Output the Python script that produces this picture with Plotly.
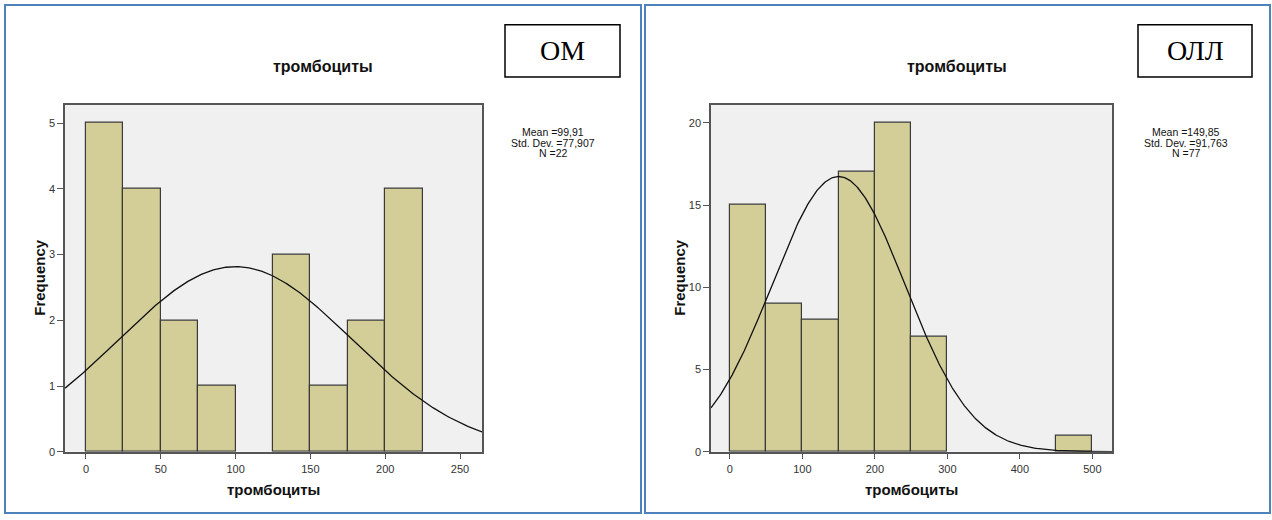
import numpy as np
import plotly.graph_objects as go

# ---------------- data ----------------
om_bin_edges = [0, 25, 50, 75, 100, 125, 150, 175, 200, 225]
om_counts = [5, 4, 2, 1, 0, 3, 1, 2, 4]
om_mean, om_std, om_n = 99.91, 77.907, 22

oll_bin_edges = [0, 50, 100, 150, 200, 250, 300, 350, 400, 450, 500]
oll_counts = [15, 9, 8, 17, 20, 7, 0, 0, 0, 1]
oll_mean, oll_std, oll_n = 149.85, 91.763, 77

om_xticks = [0, 50, 100, 150, 200, 250]
om_yticks = [0, 1, 2, 3, 4, 5]
oll_xticks = [0, 100, 200, 300, 400, 500]
oll_yticks = [0, 5, 10, 15, 20]

title_text = "тромбоциты"
xlabel_text = "тромбоциты"
ylabel_text = "Frequency"
group_labels = ["ОМ", "ОЛЛ"]

# ---------------- layout constants ----------------
W, H = 1272, 520
BAR_FILL = "#D3CE98"
BAR_LINE = "#3A3A3A"
PLOT_BG = "#F0F0F0"
AXIS_COL = "#555555"
FONT = "Liberation Sans, Arial, sans-serif"

def px(x):
    return x / W

def py(y):
    return 1 - y / H

fig = go.Figure()

panels = [
    dict(edges=om_bin_edges, counts=om_counts, mean=om_mean, std=om_std, n=om_n,
         xr=[-14, 264.7], yr=[0, 5.28], xt=om_xticks, yt=om_yticks,
         xd=[px(65), px(482)], stats_x=553, title_x=323, box=(505, 25, 620, 78),
         label=group_labels[0], frame=(5, 5, 641, 519), ylab_x=40,
         std_str="77,907", mean_str="99,91"),
    dict(edges=oll_bin_edges, counts=oll_counts, mean=oll_mean, std=oll_std, n=oll_n,
         xr=[-26, 527], yr=[0, 21.1], xt=oll_xticks, yt=oll_yticks,
         xd=[px(711), px(1112)], stats_x=1186, title_x=957, box=(1138, 25, 1252, 78),
         label=group_labels[1], frame=(645, 5, 1270, 519), ylab_x=680,
         std_str="91,763", mean_str="149,85"),
]

ydom = [py(457), py(106)]
shapes = []
annotations = []

for i, p in enumerate(panels):
    sfx = "" if i == 0 else str(i + 1)
    xa, ya = "x" + sfx, "y" + sfx
    edges = np.array(p["edges"], dtype=float)
    centers = (edges[:-1] + edges[1:]) / 2
    widths = edges[1:] - edges[:-1]
    # empty bins are not drawn (no outline along the axis)
    yvals = [c if c else None for c in p["counts"]]
    fig.add_trace(go.Bar(
        x=centers, y=yvals, width=widths,
        marker=dict(color=BAR_FILL, line=dict(color=BAR_LINE, width=1.2)),
        xaxis=xa, yaxis=ya, showlegend=False, hoverinfo="x+y"))
    bw = widths[0]
    xs = np.linspace(p["xr"][0], p["xr"][1], 400)
    ys = p["n"] * bw * np.exp(-0.5 * ((xs - p["mean"]) / p["std"]) ** 2) / (p["std"] * np.sqrt(2 * np.pi))
    fig.add_trace(go.Scatter(x=xs, y=ys, mode="lines", line=dict(color="#111111", width=1.3),
                             xaxis=xa, yaxis=ya, showlegend=False, hoverinfo="skip"))

    axis_common = dict(showline=True, linecolor=AXIS_COL, linewidth=1.5, mirror=True,
                       showgrid=False, zeroline=False, ticks="outside", ticklen=6,
                       tickcolor=AXIS_COL, tickwidth=1.3,
                       tickfont=dict(family=FONT, size=11, color="#333333"))
    fig.update_layout(**{
        "xaxis" + sfx: dict(domain=p["xd"], range=p["xr"], tickmode="array",
                            tickvals=p["xt"], anchor=ya, **axis_common),
        "yaxis" + sfx: dict(domain=ydom, range=p["yr"], tickmode="array",
                            tickvals=p["yt"], anchor=xa, **axis_common),
    })

    # panel frame
    fx0, fy0, fx1, fy1 = p["frame"]
    shapes.append(dict(type="rect", xref="paper", yref="paper",
                       x0=px(fx0), x1=px(fx1), y0=py(fy1), y1=py(fy0),
                       line=dict(color="#4F81BD", width=2), fillcolor="rgba(0,0,0,0)",
                       layer="below"))
    # label box
    bx0, by0, bx1, by1 = p["box"]
    shapes.append(dict(type="rect", xref="paper", yref="paper",
                       x0=px(bx0), x1=px(bx1), y0=py(by1), y1=py(by0),
                       line=dict(color="#000000", width=1.5), fillcolor="white"))
    annotations.append(dict(text=p["label"], xref="paper", yref="paper",
                            x=px((bx0 + bx1) / 2), y=py((by0 + by1) / 2),
                            showarrow=False, xanchor="center", yanchor="middle",
                            font=dict(family="Liberation Serif, Times New Roman, serif",
                                      size=28, color="#000000")))
    # chart title
    annotations.append(dict(text="<b>" + title_text + "</b>", xref="paper", yref="paper",
                            x=px(p["title_x"]), y=py(67), showarrow=False,
                            xanchor="center", yanchor="middle",
                            font=dict(family=FONT, size=16, color="#111111")))
    # x label
    annotations.append(dict(text="<b>" + xlabel_text + "</b>", xref="paper", yref="paper",
                            x=(p["xd"][0] + p["xd"][1]) / 2, y=py(495), showarrow=False,
                            xanchor="center", yanchor="middle",
                            font=dict(family=FONT, size=15, color="#111111")))
    # y label
    annotations.append(dict(text="<b>" + ylabel_text + "</b>", xref="paper", yref="paper",
                            x=px(p["ylab_x"]), y=py(281), showarrow=False, textangle=-90,
                            xanchor="center", yanchor="middle",
                            font=dict(family=FONT, size=15, color="#111111")))
    # stats (one annotation per line for compact spacing)
    stat_lines = ["Mean =" + p["mean_str"], "Std. Dev. =" + p["std_str"], "N =" + str(p["n"])]
    for k, line in enumerate(stat_lines):
        annotations.append(dict(text=line, xref="paper", yref="paper",
                                x=px(p["stats_x"]), y=py(134 + 10.5 * k), showarrow=False,
                                xanchor="center", yanchor="middle",
                                font=dict(family=FONT, size=10.5, color="#111111")))

fig.update_layout(
    width=W, height=H, margin=dict(l=0, r=0, t=0, b=0),
    paper_bgcolor="white", plot_bgcolor=PLOT_BG,
    bargap=0, shapes=shapes, annotations=annotations,
    font=dict(family=FONT),
)

fig.write_html("out.html", config={"displayModeBar": False})
